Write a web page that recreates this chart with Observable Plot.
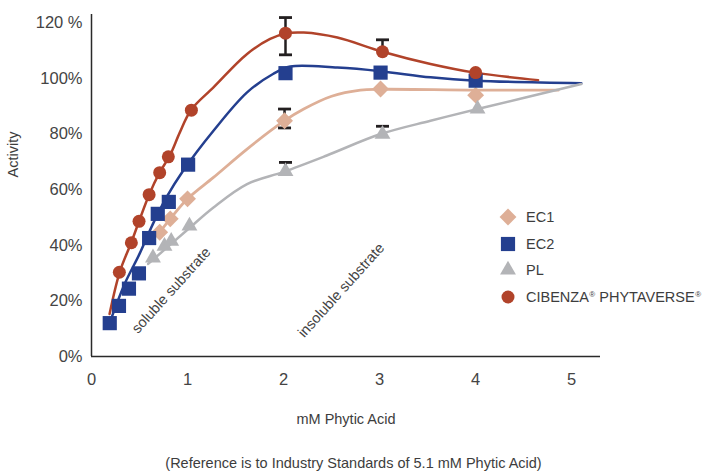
<!DOCTYPE html>
<html><head><meta charset="utf-8">
<script src="https://cdn.jsdelivr.net/npm/d3@7"></script>
<script src="https://cdn.jsdelivr.net/npm/@observablehq/plot@0.6"></script>
<style>
body{margin:0;background:#fff;font-family:"Liberation Sans",Arial,sans-serif;}
#wrap{position:relative;width:707px;height:475px;overflow:hidden;}
#legend{position:absolute;left:497px;top:204px;font-size:14.5px;color:#3d3d3d;}
.row{display:flex;align-items:center;height:26.6px;white-space:nowrap;}
.row svg{width:22px;height:22px;margin-right:7px;flex:none;}
.row sup{font-size:8px;vertical-align:5px;margin-left:0.5px;}
#caption{position:absolute;left:0;width:707px;top:455px;line-height:16px;text-align:center;font-size:14.5px;color:#3d3d3d;}
</style></head>
<body><div id="wrap"><div id="chart"></div><div id="legend"></div><div id="caption"></div></div>
<script>
// ---- data ----
const seriesNames = ["EC1", "EC2", "PL", "CIBENZA® PHYTAVERSE®"];
const seriesColors = ["#deaf97", "#243f8f", "#b3b4b7", "#b1432a"];

const xTicks = [0, 1, 2, 3, 4, 5];
const xTickLabels = ["0", "1", "2", "3", "4", "5"];
const yTicks = [0, 20, 40, 60, 80, 100, 120];
const yTickLabels = ["0%", "20%", "40%", "60%", "80%", "100%", "120 %"];

// markers (mM phytic acid, activity %)
const ec1Dose = [0.71, 0.82, 1.0, 2.01, 3.01, 4.0];
const ec1Act  = [44.7, 49.5, 56.7, 84.8, 96.2, 94.0];
const ec2Dose = [0.19, 0.286, 0.39, 0.494, 0.60, 0.69, 0.805, 1.006, 2.02, 3.01, 4.0];
const ec2Act  = [12.0, 18.2, 24.4, 29.9, 42.6, 51.3, 55.6, 69.0, 101.9, 102.1, 99.2];
const plDose  = [0.64, 0.76, 0.83, 1.02, 2.02, 3.03, 4.02];
const plAct   = [35.5, 39.7, 41.5, 47.0, 66.6, 80.0, 89.0];
const cibDose = [0.29, 0.415, 0.495, 0.60, 0.71, 0.80, 1.04, 2.02, 3.03, 4.0];
const cibAct  = [30.3, 40.9, 48.6, 58.2, 66.1, 71.8, 88.6, 116.3, 109.6, 102.1];

// smoothed trend curves
const ec1LineDose = [0.71, 0.82, 1.0, 1.27, 1.62, 2.01, 2.21, 2.5, 2.8, 3.01, 4.0, 4.86];
const ec1LineAct  = [44.7, 49.5, 56.7, 64.4, 74.6, 84.8, 89.0, 93.6, 95.8, 96.1, 95.8, 95.8];
const ec2LineDose = [0.188, 0.345, 0.50, 0.64, 0.78, 0.954, 1.27, 1.62, 1.89, 2.07, 2.56, 3.01, 3.53, 4.0, 5.1];
const ec2LineAct  = [12.0, 26.1, 36.9, 47.7, 57.2, 66.8, 81.2, 95.0, 101.6, 104.3, 103.9, 102.6, 100.4, 99.2, 98.3];
const plLineDose  = [0.59, 0.99, 1.27, 1.62, 2.0, 2.45, 3.01, 3.53, 4.02, 5.1];
const plLineAct   = [33.3, 45.3, 53.6, 62.0, 66.4, 72.3, 80.0, 84.8, 89.0, 98.0];
const cibLineDose = [0.188, 0.293, 0.415, 0.60, 0.71, 0.815, 0.92, 1.035, 1.27, 1.62, 1.86, 2.02, 2.21, 2.56, 3.03, 3.53, 3.99, 4.65];
const cibLineAct  = [15.3, 30.3, 41.1, 58.2, 66.2, 72.2, 80.6, 88.6, 96.8, 108.8, 114.2, 116.2, 116.5, 114.7, 109.6, 105.2, 102.1, 99.4];

// error bars
const errDose = [2.02, 3.03, 2.01, 2.02, 3.03];
const errLow  = [108.5, null, 82.2, null, null];
const errHigh = [121.9, 113.9, 89.0, 69.8, 82.8];
const errMid  = [116.3, 109.6, 84.8, 66.6, 80.0];

// annotations
const noteText = ["soluble substrate", "insoluble substrate"];
const noteDose = [0.83, 2.60];
const noteAct  = [23.8, 23.8];

const xLabel = "mM Phytic Acid";
const yLabel = "Activity";
const caption = "(Reference is to Industry Standards of 5.1 mM Phytic Acid)";

// ---- build tables ----
const zip = (xs, ys) => xs.map((x, i) => ({x, y: ys[i]}));
const markers = [zip(ec1Dose, ec1Act), zip(ec2Dose, ec2Act), zip(plDose, plAct), zip(cibDose, cibAct)];
const lines = [zip(ec1LineDose, ec1LineAct), zip(ec2LineDose, ec2LineAct), zip(plLineDose, plLineAct), zip(cibLineDose, cibLineAct)];
const symbols = ["diamond2", "square", "triangle", "circle"];
const radii = [7.6, 8.0, 5.9, 6.5];
const lineWidths = [2.8, 2.5, 2.5, 2.5];

const errs = errDose.map((x, i) => ({x, lo: errLow[i] ?? errMid[i], hi: errHigh[i]}));
const caps = [];
errDose.forEach((x, i) => { caps.push({x, y: errHigh[i]}); if (errLow[i] != null) caps.push({x, y: errLow[i]}); });
const notes = noteText.map((t, i) => ({t, x: noteDose[i], y: noteAct[i]}));

const capSymbol = {draw(ctx) { ctx.moveTo(-6.5, 0); ctx.lineTo(6.5, 0); }};
const ink = "#2a2a2a";

const chart = Plot.plot({
  width: 707, height: 440,
  marginLeft: 91, marginRight: 107, marginTop: 14, marginBottom: 84,
  style: {fontFamily: "'Liberation Sans', Arial, sans-serif", background: "#fff"},
  x: {domain: [0, 5.3]},
  y: {domain: [0, 123]},
  marks: [
    Plot.axisX({ticks: xTicks, tickSize: 0, tickPadding: 17, fontSize: 16.5, fill: "#444", label: null,
      tickFormat: d => xTickLabels[xTicks.indexOf(d)]}),
    Plot.axisY({ticks: yTicks, tickSize: 0, tickPadding: 9, fontSize: 16.5, fill: "#444", label: null,
      tickFormat: d => yTickLabels[yTicks.indexOf(d)]}),
    Plot.ruleX([0], {stroke: ink, strokeWidth: 1.5}),
    Plot.ruleY([0], {stroke: ink, strokeWidth: 1.5}),
    ...lines.map((d, i) => Plot.line(d, {x: "x", y: "y", curve: "catmull-rom", stroke: seriesColors[i], strokeWidth: lineWidths[i]})),
    Plot.ruleX(errs, {x: "x", y1: "lo", y2: "hi", stroke: "#231f20", strokeWidth: 2.5}),
    Plot.dot(caps, {x: "x", y: "y", symbol: capSymbol, r: 5, fill: "none", stroke: "#231f20", strokeWidth: 2.8}),
    ...markers.map((d, i) => Plot.dot(d, {x: "x", y: "y", symbol: symbols[i], r: radii[i], fill: seriesColors[i], stroke: "none"})),
    Plot.text(notes, {x: "x", y: "y", text: "t", rotate: -48, fontSize: 14.5, fill: "#444"}),
    Plot.text([xLabel], {frameAnchor: "bottom", dy: 67, fontSize: 14.5, fill: "#3d3d3d"}),
    Plot.text([yLabel], {frameAnchor: "left", dx: -78, dy: -8, rotate: -90, fontSize: 14.5, fill: "#3d3d3d"})
  ]
});
document.getElementById("chart").appendChild(chart);

// legend
const legend = d3.select("#legend");
seriesNames.forEach((name, i) => {
  const row = legend.append("div").attr("class", "row");
  const svg = row.append("svg").attr("viewBox", "-11 -11 22 22");
  const type = {diamond2: d3.symbolDiamond2, square: d3.symbolSquare, triangle: d3.symbolTriangle, circle: d3.symbolCircle}[symbols[i]];
  svg.append("path").attr("d", d3.symbol(type, Math.PI * radii[i] * radii[i])()).attr("fill", seriesColors[i]);
  row.append("span").html(name.replace(/®/g, "<sup>®</sup>"));
});
document.getElementById("caption").textContent = caption;
</script>
</body></html>
